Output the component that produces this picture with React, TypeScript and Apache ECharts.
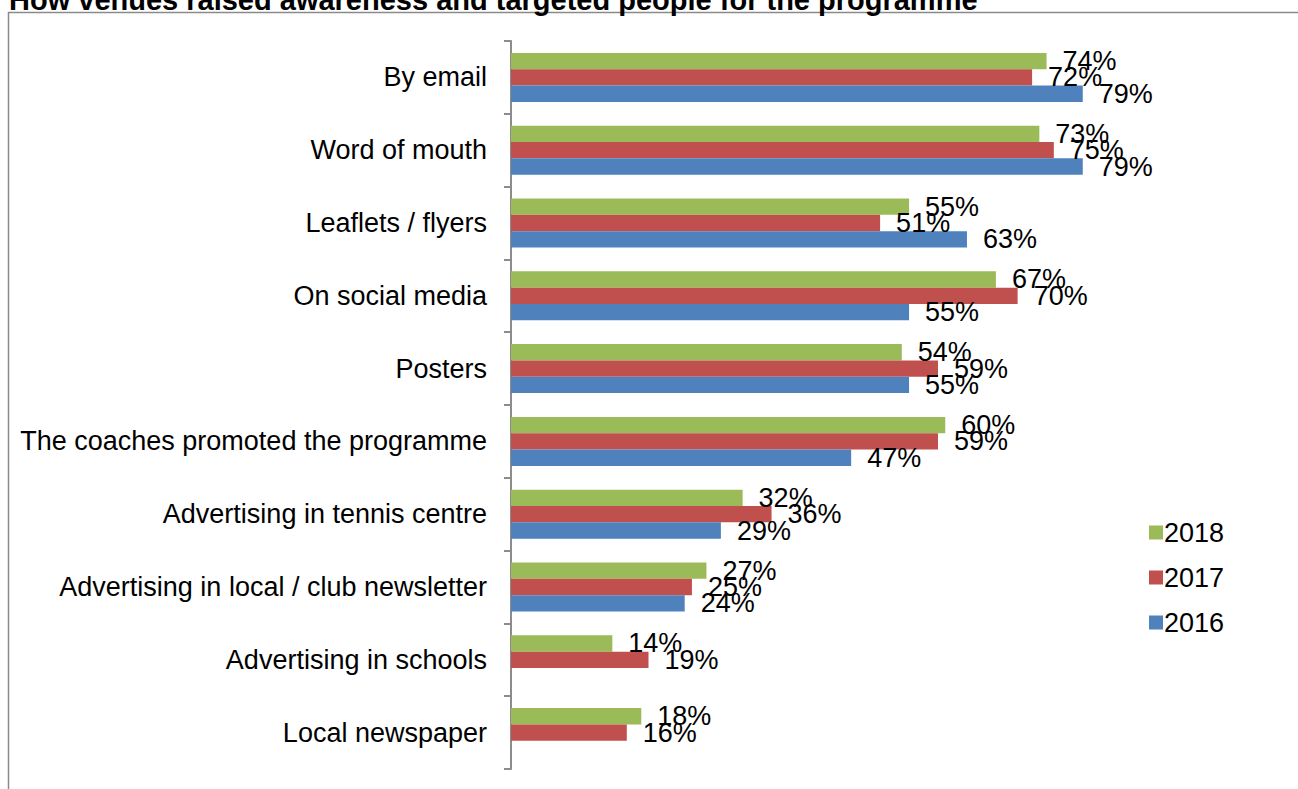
import React, { useEffect, useRef } from "react";
import * as echarts from "echarts";

const categories = [
  "By email",
  "Word of mouth",
  "Leaflets / flyers",
  "On social media",
  "Posters",
  "The coaches promoted the programme",
  "Advertising in tennis centre",
  "Advertising in local / club newsletter",
  "Advertising in schools",
  "Local newspaper",
];
const values2018 = [74, 73, 55, 67, 54, 60, 32, 27, 14, 18];
const values2017 = [72, 75, 51, 70, 59, 59, 36, 25, 19, 16];
const values2016: (number | null)[] = [79, 79, 63, 55, 55, 47, 29, 24, null, null];
const seriesNames = ["2018", "2017", "2016"];
const colors = ["#9BBB59", "#C0504D", "#4F81BD"];
const title = "How venues raised awareness and targeted people for the programme";

const FONT = "'Liberation Sans', Arial, sans-serif";
const FS = 27;

export default function App() {
  const ref = useRef<HTMLDivElement>(null);
  useEffect(() => {
    if (!ref.current) return;
    const chart = echarts.init(ref.current, null, { renderer: "svg" });
    const allValues = [values2018, values2017, values2016];
    chart.setOption({
      animation: false,
      textStyle: { fontFamily: FONT },
      graphic: [
        {
          type: "rect",
          shape: { x: 8.5, y: 12.5, width: 1400, height: 1000 },
          style: { fill: "none", stroke: "#8a8a8a", lineWidth: 1.5 },
          z: 0,
        },
        {
          type: "text",
          x: 9,
          y: 0,
          style: {
            text: title,
            fontFamily: FONT,
            fontSize: 29,
            fontWeight: "bold",
            fill: "#000",
            verticalAlign: "middle",
          },
        },
      ],
      legend: {
        orient: "vertical",
        left: 1144,
        top: 514,
        itemWidth: 14,
        itemHeight: 14,
        itemGap: 18,
        icon: "rect",
        data: seriesNames,
        textStyle: { fontSize: FS, color: "#000", fontFamily: FONT, padding: [0, 0, 0, -4] },
      },
      grid: { left: 511, top: 41, width: 579, height: 728, containLabel: false },
      xAxis: {
        type: "value",
        min: 0,
        max: 80,
        show: false,
      },
      yAxis: {
        type: "category",
        inverse: true,
        data: categories,
        axisLine: { show: true, lineStyle: { color: "#8c8c8c", width: 2 } },
        axisTick: { show: true, length: 7, lineStyle: { color: "#8c8c8c", width: 2 } },
        axisLabel: { fontSize: FS, color: "#000", margin: 24, fontFamily: FONT },
        splitLine: { show: false },
      },
      series: seriesNames.map((name, i) => ({
        name,
        type: "bar",
        data: allValues[i],
        barGap: "0%",
        barCategoryGap: "32.7%",
        itemStyle: { color: colors[i] },
        label: {
          show: true,
          position: "right",
          distance: 16,
          fontSize: FS,
          color: "#000",
          fontFamily: FONT,
          formatter: (p: any) => (p.value == null ? "" : p.value + "%"),
        },
      })),
    });
    return () => chart.dispose();
  }, []);
  return (
    <div
      ref={ref}
      style={{ position: "fixed", left: 0, top: 0, width: 1298, height: 789, background: "#fff" }}
    />
  );
}
